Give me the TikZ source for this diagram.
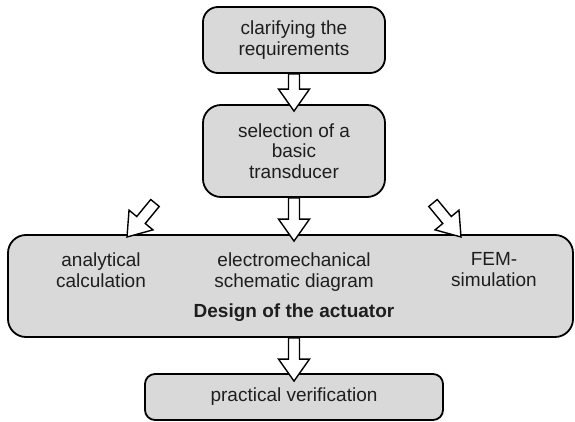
\documentclass[tikz,border=0pt]{standalone}
\usepackage{fontspec}
\setmainfont{Liberation Sans}
\usetikzlibrary{calc}
\definecolor{boxgray}{RGB}{217,217,217}
\definecolor{inkc}{RGB}{30,30,30}
\tikzset{
  boxst/.style={draw=black, line width=1.8pt, fill=boxgray, inner sep=0pt, align=center,
    text=inkc, font=\fontsize{19}{20.5}\selectfont},
  txt/.style={inner sep=0pt, align=center, text=inkc, font=\fontsize{19}{21}\selectfont},
  blockarr/.style={draw=black, fill=white, line width=1.4pt, line join=miter}
}
\newcommand\blkarrow[2]{%
  \path let \p1=(#1), \p2=(#2), \n1={atan2(\y2-\y1,\x2-\x1)}, \n2={veclen(\x2-\x1,\y2-\y1)} in
    \pgfextra{\xdef\baang{\n1}\xdef\balen{\n2}\xdef\bax{\x1}\xdef\bay{\y1}};
  \draw[blockarr, shift={(\bax,\bay)}, rotate=\baang]
    (0pt,-5.5pt) -- ({\balen-22pt},-5.5pt) -- ({\balen-22pt},-15.5pt) -- (\balen,0pt)
    -- ({\balen-22pt},15.5pt) -- ({\balen-22pt},5.5pt) -- (0pt,5.5pt) -- cycle;
}
\begin{document}
\begin{tikzpicture}[x=1pt,y=-1pt]
\useasboundingbox (0,0) rectangle (575,422);
% boxes
\node[boxst, minimum width=182pt, minimum height=66pt, rounded corners=15pt] (req) at (294,40) {clarifying the\\requirements};
\node[boxst, minimum width=182pt, minimum height=92pt, rounded corners=18pt] (sel) at (294,151) {selection of a\\basic\\transducer};
\node[boxst, minimum width=565pt, minimum height=102pt, rounded corners=18pt] (design) at (290.5,286) {};
\node[boxst, minimum width=298pt, minimum height=46pt, rounded corners=10pt] (verif) at (294,397) {practical verification};
% texts in the design box
\node[txt] (ana) at (101,270) {analytical\\calculation};
\node[txt] (ems) at (294,272) {electromechanical\\schematic diagram};
\node[txt] (fem) at (494,270) {FEM-\\simulation};
\node[txt, font=\fontsize{19}{21}\selectfont\bfseries] (dsg) at (294,313) {Design of the actuator};
% arrow end points
\coordinate (t1) at ($(sel.north)+(0,7)$);
\coordinate (t2) at ($(design.north)+(3.5,7)$);
\coordinate (t3) at ($(verif.north)+(0,8)$);
\coordinate (la) at (155,203);
\coordinate (lt) at (127,237);
\coordinate (ra) at (433,203);
\coordinate (rt) at (461,237);
% block arrows
\blkarrow{req.south}{t1}
\blkarrow{sel.south}{t2}
\blkarrow{design.south -| verif.north}{t3}
\blkarrow{la}{lt}
\blkarrow{ra}{rt}
\end{tikzpicture}
\end{document}
